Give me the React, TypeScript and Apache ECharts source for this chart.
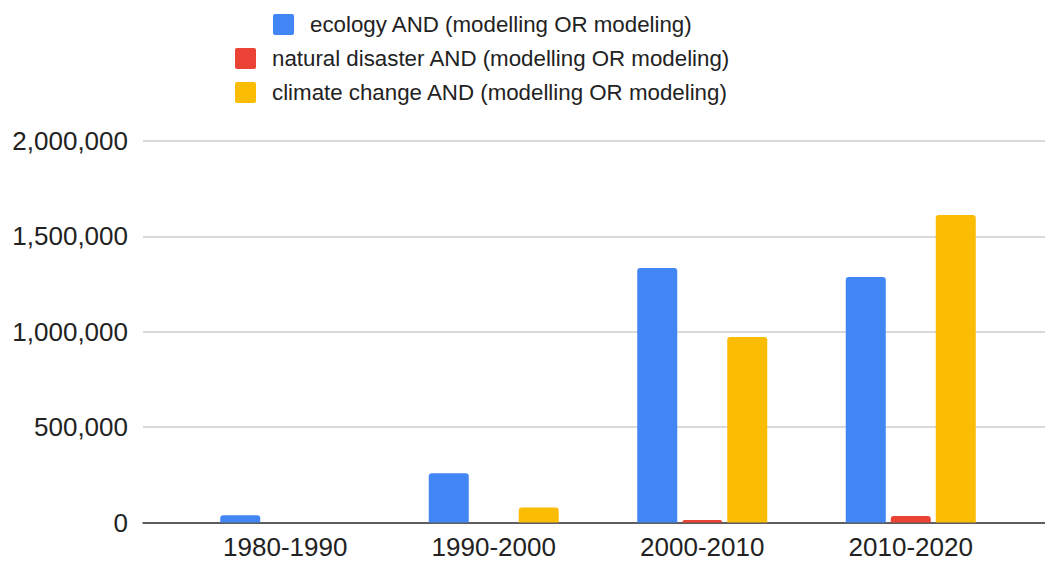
import React, { useEffect, useRef } from "react";
import * as echarts from "echarts";

const categories = ["1980-1990", "1990-2000", "2000-2010", "2010-2020"];
const seriesNames = [
  "ecology AND (modelling OR modeling)",
  "natural disaster AND (modelling OR modeling)",
  "climate change AND (modelling OR modeling)",
];
const ecology = [38000, 258000, 1334000, 1287000];
const naturalDisaster = [0, 0, 13000, 34000];
const climateChange = [0, 78000, 972000, 1612000];
const colors = ["#4285F4", "#EA4335", "#FBBC04"];
const yMin = 0;
const yMax = 2000000;
const yInterval = 500000;

const FONT = "'Liberation Sans', Arial, sans-serif";

export default function App() {
  const ref = useRef<HTMLDivElement>(null);
  useEffect(() => {
    if (!ref.current) return;
    const chart = echarts.init(ref.current, null, { renderer: "svg" });
    const values = [ecology, naturalDisaster, climateChange];
    const legendLefts = [273, 235, 235];
    const legendTops = [13.5, 47.5, 81.5];
    const fmt = (v: number) => v.toLocaleString("en-US");
    chart.setOption({
      animation: false,
      backgroundColor: "#ffffff",
      legend: seriesNames.map((n, i) => ({
        data: [n],
        left: legendLefts[i],
        top: legendTops[i],
        padding: 0,
        itemWidth: 21,
        itemHeight: 21,
        icon: "path://M2,0 L19,0 Q21,0 21,2 L21,19 Q21,21 19,21 L2,21 Q0,21 0,19 L0,2 Q0,0 2,0 Z",
        textStyle: {
          fontFamily: FONT,
          fontSize: 22.3,
          color: "#222222",
          padding: [0, 0, 0, 11],
        },
        selectedMode: false,
      })),
      grid: [
        { left: 143, right: 0, top: 141, bottom: 38.5 },
        { left: 181, right: 30, top: 141, bottom: 38.5 },
      ],
      xAxis: [
        {
          type: "category",
          gridIndex: 0,
          data: categories,
          axisLine: { show: true, lineStyle: { color: "#333333", width: 1.5 } },
          axisTick: { show: false },
          axisLabel: { show: false },
          splitLine: { show: false },
        },
        {
          type: "category",
          gridIndex: 1,
          data: categories,
          axisLine: { show: false },
          axisTick: { show: false },
          axisLabel: {
            fontFamily: FONT,
            fontSize: 26,
            color: "#222222",
            margin: 11,
          },
        },
      ],
      yAxis: [
        {
          type: "value",
          gridIndex: 0,
          min: yMin,
          max: yMax,
          interval: yInterval,
          axisLine: { show: false },
          axisTick: { show: false },
          axisLabel: {
            formatter: fmt,
            fontFamily: FONT,
            fontSize: 26,
            color: "#222222",
            margin: 15,
          },
          splitLine: { lineStyle: { color: "#cccccc", width: 1.5 } },
        },
        {
          type: "value",
          gridIndex: 1,
          min: yMin,
          max: yMax,
          interval: yInterval,
          show: false,
          splitLine: { show: false },
        },
      ],
      series: seriesNames.map((n, i) => ({
        name: n,
        type: "bar",
        xAxisIndex: 1,
        yAxisIndex: 1,
        data: values[i],
        barWidth: 40,
        barGap: "12.5%",
        itemStyle: { color: colors[i], borderRadius: [3, 3, 0, 0] },
      })),
    });
    return () => chart.dispose();
  }, []);
  return (
    <div
      ref={ref}
      style={{ position: "absolute", left: 0, top: 0, width: 1045, height: 561 }}
    />
  );
}
